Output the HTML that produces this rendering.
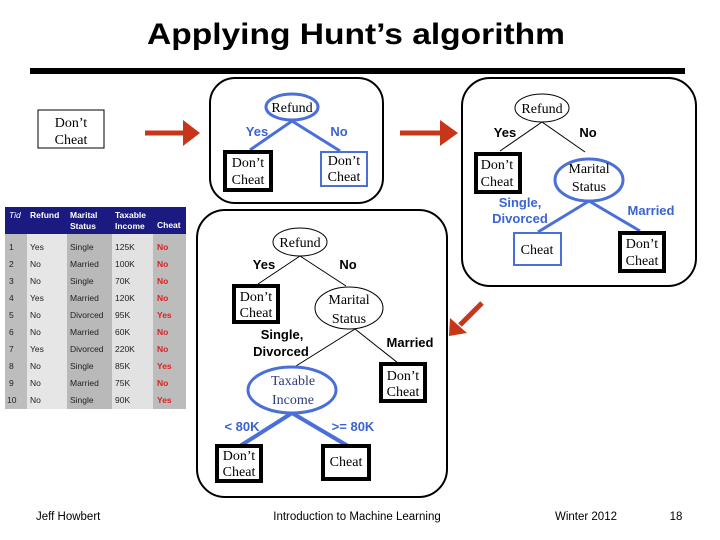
<!DOCTYPE html>
<html><head><style>
body{margin:0;background:#fff;}
svg{display:block;}
.s{font-family:"Liberation Serif",serif;font-size:14px;fill:#000;}
.b{font-family:"Liberation Sans",sans-serif;font-size:13px;font-weight:bold;}
.t{font-family:"Liberation Sans",sans-serif;font-size:8.5px;}
.f{font-family:"Liberation Sans",sans-serif;font-size:11.5px;}
</style></head><body>
<svg width="720" height="540" viewBox="0 0 720 540" xmlns="http://www.w3.org/2000/svg">
<text x="356" y="44" text-anchor="middle" font-family="Liberation Sans,sans-serif" font-size="30" font-weight="bold" textLength="418" lengthAdjust="spacingAndGlyphs">Applying Hunt’s algorithm</text>
<rect x="30" y="68" width="655" height="6" fill="#000"/>

<rect x="38" y="110" width="66" height="38" fill="#fff" stroke="#000" stroke-width="1"/>
<text class="s" x="71" y="127" text-anchor="middle">Don’t</text>
<text class="s" x="71" y="144" text-anchor="middle">Cheat</text>

<g fill="#c8361a" stroke="#c8361a">
<line x1="145" y1="133" x2="190" y2="133" stroke-width="5"/>
<polygon points="183,120 200,133 183,146" stroke="none"/>
<line x1="400" y1="133" x2="447" y2="133" stroke-width="5"/>
<polygon points="440,120 458,133 440,146" stroke="none"/>
<line x1="482" y1="303" x2="460" y2="325" stroke-width="5"/>
<polygon points="450,318 449,336 467,333" stroke="none"/>
</g>

<rect x="210" y="78" width="173" height="125" rx="25" fill="#fff" stroke="#000" stroke-width="2"/>
<line x1="292" y1="121" x2="250" y2="150" stroke="#4a6fd8" stroke-width="3"/>
<line x1="292" y1="121" x2="340" y2="151" stroke="#4a6fd8" stroke-width="3"/>
<ellipse cx="292" cy="107" rx="26" ry="13" fill="#fff" stroke="#4a6fd8" stroke-width="3"/>
<text class="s" x="292" y="112" text-anchor="middle">Refund</text>
<text class="b" x="257" y="136" text-anchor="middle" fill="#3a64d0">Yes</text>
<text class="b" x="339" y="136" text-anchor="middle" fill="#3a64d0">No</text>
<rect x="225" y="152" width="46" height="38" fill="#fff" stroke="#000" stroke-width="4"/>
<text class="s" x="248" y="167" text-anchor="middle">Don’t</text>
<text class="s" x="248" y="184" text-anchor="middle">Cheat</text>
<rect x="321" y="152" width="46" height="34" fill="#fff" stroke="#4a6fd8" stroke-width="2"/>
<text class="s" x="344" y="165" text-anchor="middle">Don’t</text>
<text class="s" x="344" y="181" text-anchor="middle">Cheat</text>

<rect x="462" y="78" width="234" height="208" rx="28" fill="#fff" stroke="#000" stroke-width="2"/>
<line x1="542" y1="122" x2="500" y2="151" stroke="#000" stroke-width="1"/>
<line x1="542" y1="122" x2="585" y2="152" stroke="#000" stroke-width="1"/>
<ellipse cx="542" cy="108" rx="27" ry="14" fill="#fff" stroke="#000" stroke-width="1"/>
<text class="s" x="542" y="113" text-anchor="middle">Refund</text>
<text class="b" x="505" y="137" text-anchor="middle">Yes</text>
<text class="b" x="588" y="137" text-anchor="middle">No</text>
<rect x="476" y="154" width="44" height="38" fill="#fff" stroke="#000" stroke-width="4"/>
<text class="s" x="497" y="169" text-anchor="middle">Don’t</text>
<text class="s" x="497" y="186" text-anchor="middle">Cheat</text>
<line x1="589" y1="201" x2="538" y2="232" stroke="#4a6fd8" stroke-width="3"/>
<line x1="589" y1="201" x2="640" y2="231" stroke="#4a6fd8" stroke-width="3"/>
<ellipse cx="589" cy="180" rx="34" ry="21" fill="#fff" stroke="#4a6fd8" stroke-width="3"/>
<text class="s" x="589" y="173" text-anchor="middle">Marital</text>
<text class="s" x="589" y="191" text-anchor="middle">Status</text>
<text class="b" x="520" y="207" text-anchor="middle" fill="#3a64d0">Single,</text>
<text class="b" x="520" y="223" text-anchor="middle" fill="#3a64d0">Divorced</text>
<text class="b" x="651" y="215" text-anchor="middle" fill="#3a64d0">Married</text>
<rect x="514" y="233" width="47" height="32" fill="#fff" stroke="#4a6fd8" stroke-width="2"/>
<text class="s" x="537" y="254" text-anchor="middle">Cheat</text>
<rect x="620" y="233" width="44" height="38" fill="#fff" stroke="#000" stroke-width="4"/>
<text class="s" x="642" y="248" text-anchor="middle">Don’t</text>
<text class="s" x="642" y="265" text-anchor="middle">Cheat</text>

<rect x="197" y="210" width="250" height="287" rx="28" fill="#fff" stroke="#000" stroke-width="2"/>
<line x1="300" y1="256" x2="258" y2="284" stroke="#000" stroke-width="1"/>
<line x1="300" y1="256" x2="346" y2="286" stroke="#000" stroke-width="1"/>
<ellipse cx="300" cy="242" rx="27" ry="14" fill="#fff" stroke="#000" stroke-width="1"/>
<text class="s" x="300" y="247" text-anchor="middle">Refund</text>
<text class="b" x="264" y="269" text-anchor="middle">Yes</text>
<text class="b" x="348" y="269" text-anchor="middle">No</text>
<rect x="234" y="286" width="44" height="36" fill="#fff" stroke="#000" stroke-width="4"/>
<text class="s" x="256" y="301" text-anchor="middle">Don’t</text>
<text class="s" x="256" y="317" text-anchor="middle">Cheat</text>
<line x1="355" y1="329" x2="296" y2="366" stroke="#000" stroke-width="1"/>
<line x1="355" y1="329" x2="398" y2="363" stroke="#000" stroke-width="1"/>
<ellipse cx="349" cy="308" rx="34" ry="21" fill="#fff" stroke="#000" stroke-width="1"/>
<text class="s" x="349" y="304" text-anchor="middle">Marital</text>
<text class="s" x="349" y="323" text-anchor="middle">Status</text>
<text class="b" x="282" y="339" text-anchor="middle">Single,</text>
<text class="b" x="281" y="356" text-anchor="middle">Divorced</text>
<text class="b" x="410" y="347" text-anchor="middle">Married</text>
<rect x="381" y="364" width="44" height="37" fill="#fff" stroke="#000" stroke-width="4"/>
<text class="s" x="403" y="380" text-anchor="middle">Don’t</text>
<text class="s" x="403" y="396" text-anchor="middle">Cheat</text>
<line x1="292" y1="413" x2="240" y2="446" stroke="#4a6fd8" stroke-width="4"/>
<line x1="292" y1="413" x2="348" y2="446" stroke="#4a6fd8" stroke-width="4"/>
<ellipse cx="292" cy="390" rx="44" ry="23" fill="#fff" stroke="#4a6fd8" stroke-width="3"/>
<text class="s" x="293" y="385" text-anchor="middle" style="fill:#2a3c80">Taxable</text>
<text class="s" x="293" y="404" text-anchor="middle" style="fill:#2a3c80">Income</text>
<text class="b" x="242" y="431" text-anchor="middle" fill="#3a64d0">&lt; 80K</text>
<text class="b" x="353" y="431" text-anchor="middle" fill="#3a64d0">&gt;= 80K</text>
<rect x="217" y="446" width="44" height="35" fill="#fff" stroke="#000" stroke-width="4"/>
<text class="s" x="239" y="460" text-anchor="middle">Don’t</text>
<text class="s" x="239" y="476" text-anchor="middle">Cheat</text>
<rect x="323" y="446" width="46" height="33" fill="#fff" stroke="#000" stroke-width="4"/>
<text class="s" x="346" y="466" text-anchor="middle">Cheat</text>

<rect x="5" y="207" width="181" height="202" fill="#c9c9c9"/>
<rect x="5" y="234" width="22" height="175" fill="#bdbdbd"/>
<rect x="27" y="234" width="40" height="175" fill="#e6e6e6"/>
<rect x="67" y="234" width="45" height="175" fill="#b9b9b9"/>
<rect x="112" y="234" width="41" height="175" fill="#e2e2e2"/>
<rect x="153" y="234" width="33" height="175" fill="#bcbcbc"/>
<rect x="5" y="207" width="181" height="27" fill="#1a1a80"/>
<g fill="#fff" class="t" font-weight="bold">
<text x="9" y="218" font-style="italic" font-weight="normal">Tid</text>
<text x="30" y="218">Refund</text>
<text x="70" y="218">Marital</text><text x="70" y="229">Status</text>
<text x="115" y="218">Taxable</text><text x="115" y="229">Income</text>
<text x="157" y="228">Cheat</text>
</g>
<g class="t" fill="#222">
<text x="9" y="250">1</text><text x="30" y="250">Yes</text><text x="70" y="250">Single</text><text x="115" y="250">125K</text>
<text x="9" y="267">2</text><text x="30" y="267">No</text><text x="70" y="267">Married</text><text x="115" y="267">100K</text>
<text x="9" y="284">3</text><text x="30" y="284">No</text><text x="70" y="284">Single</text><text x="115" y="284">70K</text>
<text x="9" y="301">4</text><text x="30" y="301">Yes</text><text x="70" y="301">Married</text><text x="115" y="301">120K</text>
<text x="9" y="318">5</text><text x="30" y="318">No</text><text x="70" y="318">Divorced</text><text x="115" y="318">95K</text>
<text x="9" y="335">6</text><text x="30" y="335">No</text><text x="70" y="335">Married</text><text x="115" y="335">60K</text>
<text x="9" y="352">7</text><text x="30" y="352">Yes</text><text x="70" y="352">Divorced</text><text x="115" y="352">220K</text>
<text x="9" y="369">8</text><text x="30" y="369">No</text><text x="70" y="369">Single</text><text x="115" y="369">85K</text>
<text x="9" y="386">9</text><text x="30" y="386">No</text><text x="70" y="386">Married</text><text x="115" y="386">75K</text>
<text x="7" y="403">10</text><text x="30" y="403">No</text><text x="70" y="403">Single</text><text x="115" y="403">90K</text>
</g>
<g class="t" fill="#e02020" font-weight="bold">
<text x="157" y="250">No</text><text x="157" y="267">No</text><text x="157" y="284">No</text><text x="157" y="301">No</text>
<text x="157" y="318">Yes</text><text x="157" y="335">No</text><text x="157" y="352">No</text><text x="157" y="369">Yes</text>
<text x="157" y="386">No</text><text x="157" y="403">Yes</text>
</g>

<text class="f" x="36" y="520">Jeff Howbert</text>
<text class="f" x="357" y="520" text-anchor="middle">Introduction to Machine Learning</text>
<text class="f" x="586" y="520" text-anchor="middle">Winter 2012</text>
<text class="f" x="676" y="520" text-anchor="middle">18</text>
</svg>
</body></html>
